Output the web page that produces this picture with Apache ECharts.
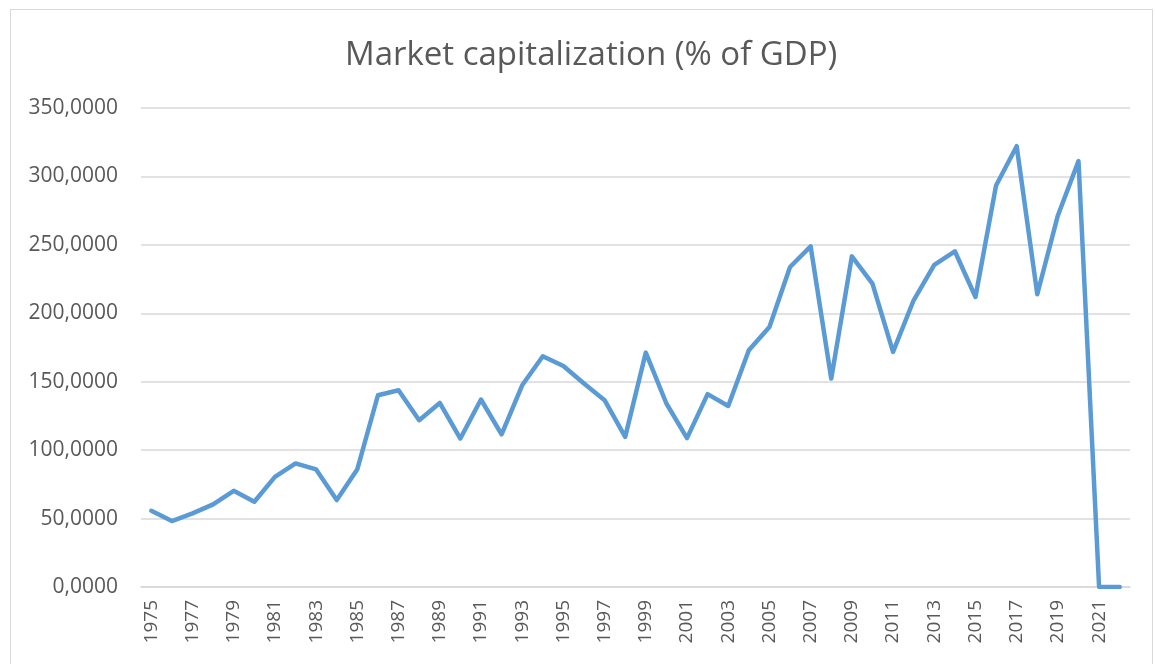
<!DOCTYPE html>
<html>
<head>
<meta charset="utf-8">
<script src="https://cdn.jsdelivr.net/npm/echarts@6/dist/echarts.min.js"></script>
<style>
  html, body { margin: 0; padding: 0; background: #fff; }
  .frame {
    position: absolute; left: 10px; top: 9px;
    width: 1141px; height: 700px;
    border: 1px solid #d9d9d9;
  }
  #chart { position: absolute; left: 0; top: 0; width: 1155px; height: 664px; }
</style>
</head>
<body>
<div class="frame"></div>
<div id="chart"></div>
<script>
  const years = []
  for (let y = 1975; y <= 2022; y++) years.push(String(y))

  const marketCap = [
    55.7, 48.2, 53.8, 60.4, 70.3, 62.3, 80.5, 90.3, 85.9, 63.5,
    86.1, 140.1, 143.8, 121.9, 134.5, 108.5, 137.0, 111.5, 147.4, 168.6,
    161.5, 148.7, 136.5, 109.7, 171.3, 134.1, 108.8, 140.9, 132.3, 173.0,
    190.0, 233.8, 248.9, 152.3, 241.6, 221.7, 171.8, 209.5, 235.4, 245.3,
    211.9, 293.4, 322.1, 213.9, 271.5, 311.2, 0, 0
  ]

  const txt = '#595959'
  const font = 'Open Sans, Noto Sans, sans-serif'

  var myChart = echarts.init(document.getElementById('chart'))
  myChart.setOption({
    animation: false,
    title: {
      text: 'Market capitalization (% of GDP)',
      left: 340,
      top: 34,
      textStyle: { color: txt, fontSize: 33, fontWeight: 'normal', fontFamily: font }
    },
    grid: { left: 141, right: 25, top: 108, bottom: 77 },
    xAxis: {
      type: 'category',
      data: years,
      boundaryGap: true,
      axisLine: { show: true, lineStyle: { color: '#d9d9d9', width: 1.5 } },
      axisTick: { show: false },
      axisLabel: {
        interval: 1,
        rotate: 90,
        color: txt,
        fontSize: 19,
        fontFamily: font,
        margin: 13
      }
    },
    yAxis: {
      type: 'value',
      min: 0,
      max: 350,
      interval: 50,
      axisLine: { show: false },
      axisTick: { show: false },
      splitLine: { lineStyle: { color: '#d9d9d9', width: 1.5 } },
      axisLabel: {
        color: txt,
        fontSize: 21,
        fontFamily: font,
        margin: 23,
        formatter: function (v) { return v.toFixed(4).replace('.', ',') }
      }
    },
    series: [
      {
        name: 'Market capitalization',
        type: 'line',
        data: marketCap,
        symbol: 'none',
        lineStyle: { color: '#5b9bd5', width: 4.5, cap: 'round', join: 'round' }
      }
    ]
  })
</script>
</body>
</html>
